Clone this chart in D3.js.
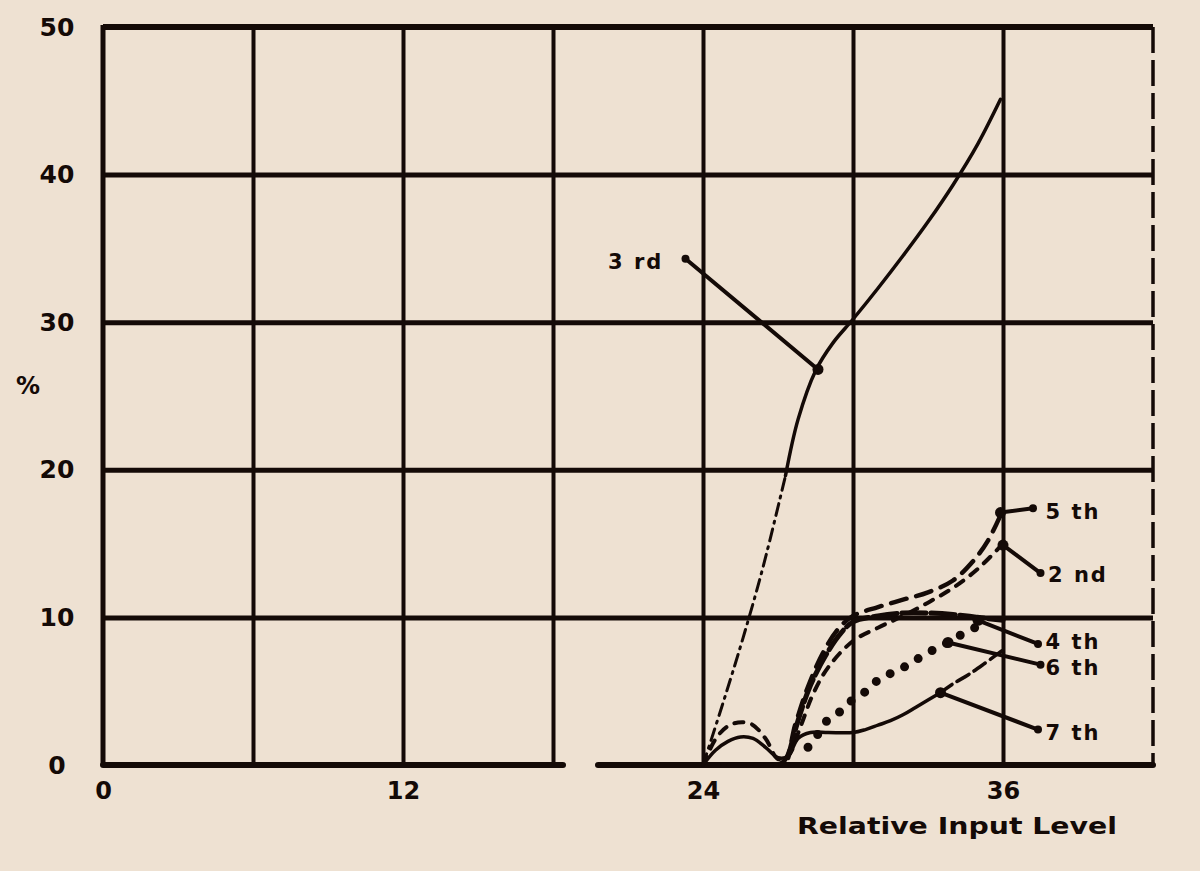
<!DOCTYPE html>
<html>
<head>
<meta charset="utf-8">
<script src="https://cdn.jsdelivr.net/npm/d3@7"></script>
<style>
  html, body { margin: 0; padding: 0; background: #eee1d2; }
  svg { display: block; }
  text { font-family: "DejaVu Sans", sans-serif; font-weight: bold; fill: #140a07; }
</style>
</head>
<body>
<svg id="chart" width="1200" height="871"></svg>
<script>
// ---- data ----
const xGrid = [6, 12, 18, 24, 30, 36];
const xTickLabels = [0, 12, 24, 36];
const yGrid = [10, 20, 30, 40];
const yTickLabels = [0, 10, 20, 30, 40, 50];

const h3rdDashX = [24, 24.8, 25.6, 26.4, 27.3];
const h3rdDashY = [0, 4.2, 8.6, 13.4, 19.6];
const h3rdX = [27.3, 27.8, 28.5, 29.2, 30, 31, 32, 33, 34, 35, 35.9];
const h3rdY = [19.6, 23.4, 26.7, 28.6, 30.2, 32.3, 34.5, 36.8, 39.3, 42.1, 45.1];

const h5thX = [24, 25, 26, 27.2, 27.7, 28.2, 28.8, 29.4, 30, 31, 32, 33, 34, 34.8, 35.4, 36];
const h5thY = [0, 0, 0, 0.2, 2.8, 5.3, 7.6, 9.2, 10.1, 10.7, 11.2, 11.7, 12.5, 13.8, 15.2, 17.3];

const h2ndX = [24, 24.6, 25.2, 25.9, 26.5, 27, 27.4, 27.9, 28.4, 29, 30, 31, 32, 33, 34, 35, 36];
const h2ndY = [0, 2.0, 2.8, 2.8, 1.8, 0.4, 0.6, 2.6, 4.8, 6.6, 8.4, 9.3, 10.1, 11.0, 12.0, 13.3, 15.0];

const h4thX = [27.4, 27.8, 28.3, 28.9, 29.5, 30, 31, 32, 33, 34, 35, 36];
const h4thY = [0.5, 3.0, 5.4, 7.4, 8.9, 9.7, 10.1, 10.3, 10.3, 10.2, 10.0, 9.8];

const h6thX = [28.2, 28.6, 28.9, 29.4, 29.9, 30.6, 31.1, 31.8, 32.4, 33.1, 33.8, 34.4, 35];
const h6thY = [1.2, 2.1, 2.9, 3.5, 4.3, 5.1, 5.9, 6.4, 7.0, 7.7, 8.3, 8.9, 9.4];

const h7thX = [24, 24.5, 25, 25.5, 26, 26.5, 27, 27.4, 27.8, 28.3, 29, 30, 30.5, 31, 31.5, 32, 32.5, 33, 33.5];
const h7thY = [0, 1.0, 1.6, 1.9, 1.8, 1.2, 0.5, 0.6, 1.8, 2.2, 2.2, 2.2, 2.4, 2.7, 3.0, 3.4, 3.9, 4.4, 4.9];
const h7thDashX = [33.5, 34, 34.6, 35.2, 36];
const h7thDashY = [4.9, 5.5, 6.1, 6.8, 7.8];

const labelNames = ["3 rd", "5 th", "2 nd", "4 th", "6 th", "7 th"];
const labelX = [20.2, 37.7, 37.8, 37.7, 37.7, 37.7];
const labelY = [34.1, 17.2, 12.9, 8.4, 6.6, 2.2];
const leaderFromX = [28.6, 35.9, 36.0, 35.0, 33.8, 33.5];
const leaderFromY = [26.8, 17.1, 14.9, 9.8, 8.3, 4.9];
const leaderToX = [23.3, 37.2, 37.5, 37.4, 37.5, 37.4];
const leaderToY = [34.3, 17.4, 13.0, 8.2, 6.8, 2.4];

const baselineSegStart = [0, 19.8];
const baselineSegEnd = [18.4, 42];

// ---- drawing ----
const ink = "#140a07";
const svg = d3.select("#chart");
const x = d3.scaleLinear().domain([0, 42]).range([103, 1153]);
const y = d3.scaleLinear().domain([0, 50]).range([765, 27]);

// vertical grid
const gx = svg.append("g").attr("transform", `translate(0,${y(0)})`)
  .call(d3.axisBottom(x).tickValues(xGrid).tickSize(-(y(0) - y(50))).tickFormat(""));
gx.select(".domain").remove();
gx.selectAll(".tick line").attr("stroke", ink).attr("stroke-width", 4);

// horizontal grid
const gy = svg.append("g").attr("transform", `translate(${x(0)},0)`)
  .call(d3.axisLeft(y).tickValues(yGrid).tickSize(-(x(42) - x(0))).tickFormat(""));
gy.select(".domain").remove();
gy.selectAll(".tick line").attr("stroke", ink).attr("stroke-width", 5);

// frame
svg.append("line").attr("x1", x(0)).attr("x2", x(42)).attr("y1", y(50)).attr("y2", y(50))
  .attr("stroke", ink).attr("stroke-width", 6);
svg.append("line").attr("x1", x(0)).attr("x2", x(0)).attr("y1", y(50) - 2).attr("y2", y(0))
  .attr("stroke", ink).attr("stroke-width", 5);
svg.append("line").attr("x1", x(42)).attr("x2", x(42)).attr("y1", y(50)).attr("y2", y(0))
  .attr("stroke", ink).attr("stroke-width", 3.5).attr("stroke-dasharray", "26,7");
baselineSegStart.forEach((s, i) => {
  svg.append("line").attr("x1", x(s)).attr("x2", x(baselineSegEnd[i]))
    .attr("y1", y(0)).attr("y2", y(0))
    .attr("stroke", ink).attr("stroke-width", 6).attr("stroke-linecap", "round");
});

// tick labels
const yl = svg.append("g").attr("transform", `translate(${x(0)},0)`)
  .call(d3.axisLeft(y).tickValues(yTickLabels).tickSize(0).tickPadding(0));
yl.select(".domain").remove();
yl.selectAll("text").attr("x", -46).attr("text-anchor", "middle")
  .style("font-size", "25px").style("font-family", "'DejaVu Sans', sans-serif")
  .style("font-weight", "bold").attr("fill", ink);

const xl = svg.append("g").attr("transform", `translate(0,${y(0)})`)
  .call(d3.axisBottom(x).tickValues(xTickLabels).tickSize(0).tickPadding(0));
xl.select(".domain").remove();
xl.selectAll("text").attr("y", 17)
  .style("font-size", "24px").style("font-family", "'DejaVu Sans', sans-serif")
  .style("font-weight", "bold").attr("fill", ink);

// axis titles
svg.append("text").attr("x", 28).attr("y", 394).attr("text-anchor", "middle")
  .style("font-size", "24px").text("%");
svg.append("text").attr("x", 797).attr("y", 834)
  .attr("textLength", 320).attr("lengthAdjust", "spacingAndGlyphs")
  .style("font-size", "23px").text("Relative Input Level");

// curves
const line = d3.line().x(d => x(d[0])).y(d => y(d[1])).curve(d3.curveCatmullRom.alpha(0.5));
function drawCurve(xs, ys, width, dash, cap) {
  svg.append("path").datum(xs.map((v, i) => [v, ys[i]]))
    .attr("d", line).attr("fill", "none").attr("stroke", ink)
    .attr("stroke-width", width)
    .attr("stroke-dasharray", dash || null)
    .attr("stroke-linecap", cap || "round")
    .attr("stroke-linejoin", "round");
}
drawCurve(h3rdDashX, h3rdDashY, 3, "12,6,2,6");
drawCurve(h3rdX, h3rdY, 3.5);
drawCurve(h5thX, h5thY, 4.5, "16,10");
drawCurve(h2ndX, h2ndY, 4, "9,9");
drawCurve(h4thX, h4thY, 5, "24,5");
drawCurve(h6thX, h6thY, 9, "0,16");
drawCurve(h7thX, h7thY, 3.5);
drawCurve(h7thDashX, h7thDashY, 3.5, "14,6");

// leaders
labelNames.forEach((n, i) => {
  svg.append("line")
    .attr("x1", x(leaderFromX[i])).attr("y1", y(leaderFromY[i]))
    .attr("x2", x(leaderToX[i])).attr("y2", y(leaderToY[i]))
    .attr("stroke", ink).attr("stroke-width", 4).attr("stroke-linecap", "round");
  svg.append("circle").attr("cx", x(leaderFromX[i])).attr("cy", y(leaderFromY[i]))
    .attr("r", 5.5).attr("fill", ink);
  svg.append("circle").attr("cx", x(leaderToX[i])).attr("cy", y(leaderToY[i]))
    .attr("r", 4).attr("fill", ink);
  svg.append("text").attr("x", x(labelX[i])).attr("y", y(labelY[i]))
    .attr("dy", "0.36em").attr("letter-spacing", "2px").style("font-size", "21px").text(n);
});
</script>
</body>
</html>
